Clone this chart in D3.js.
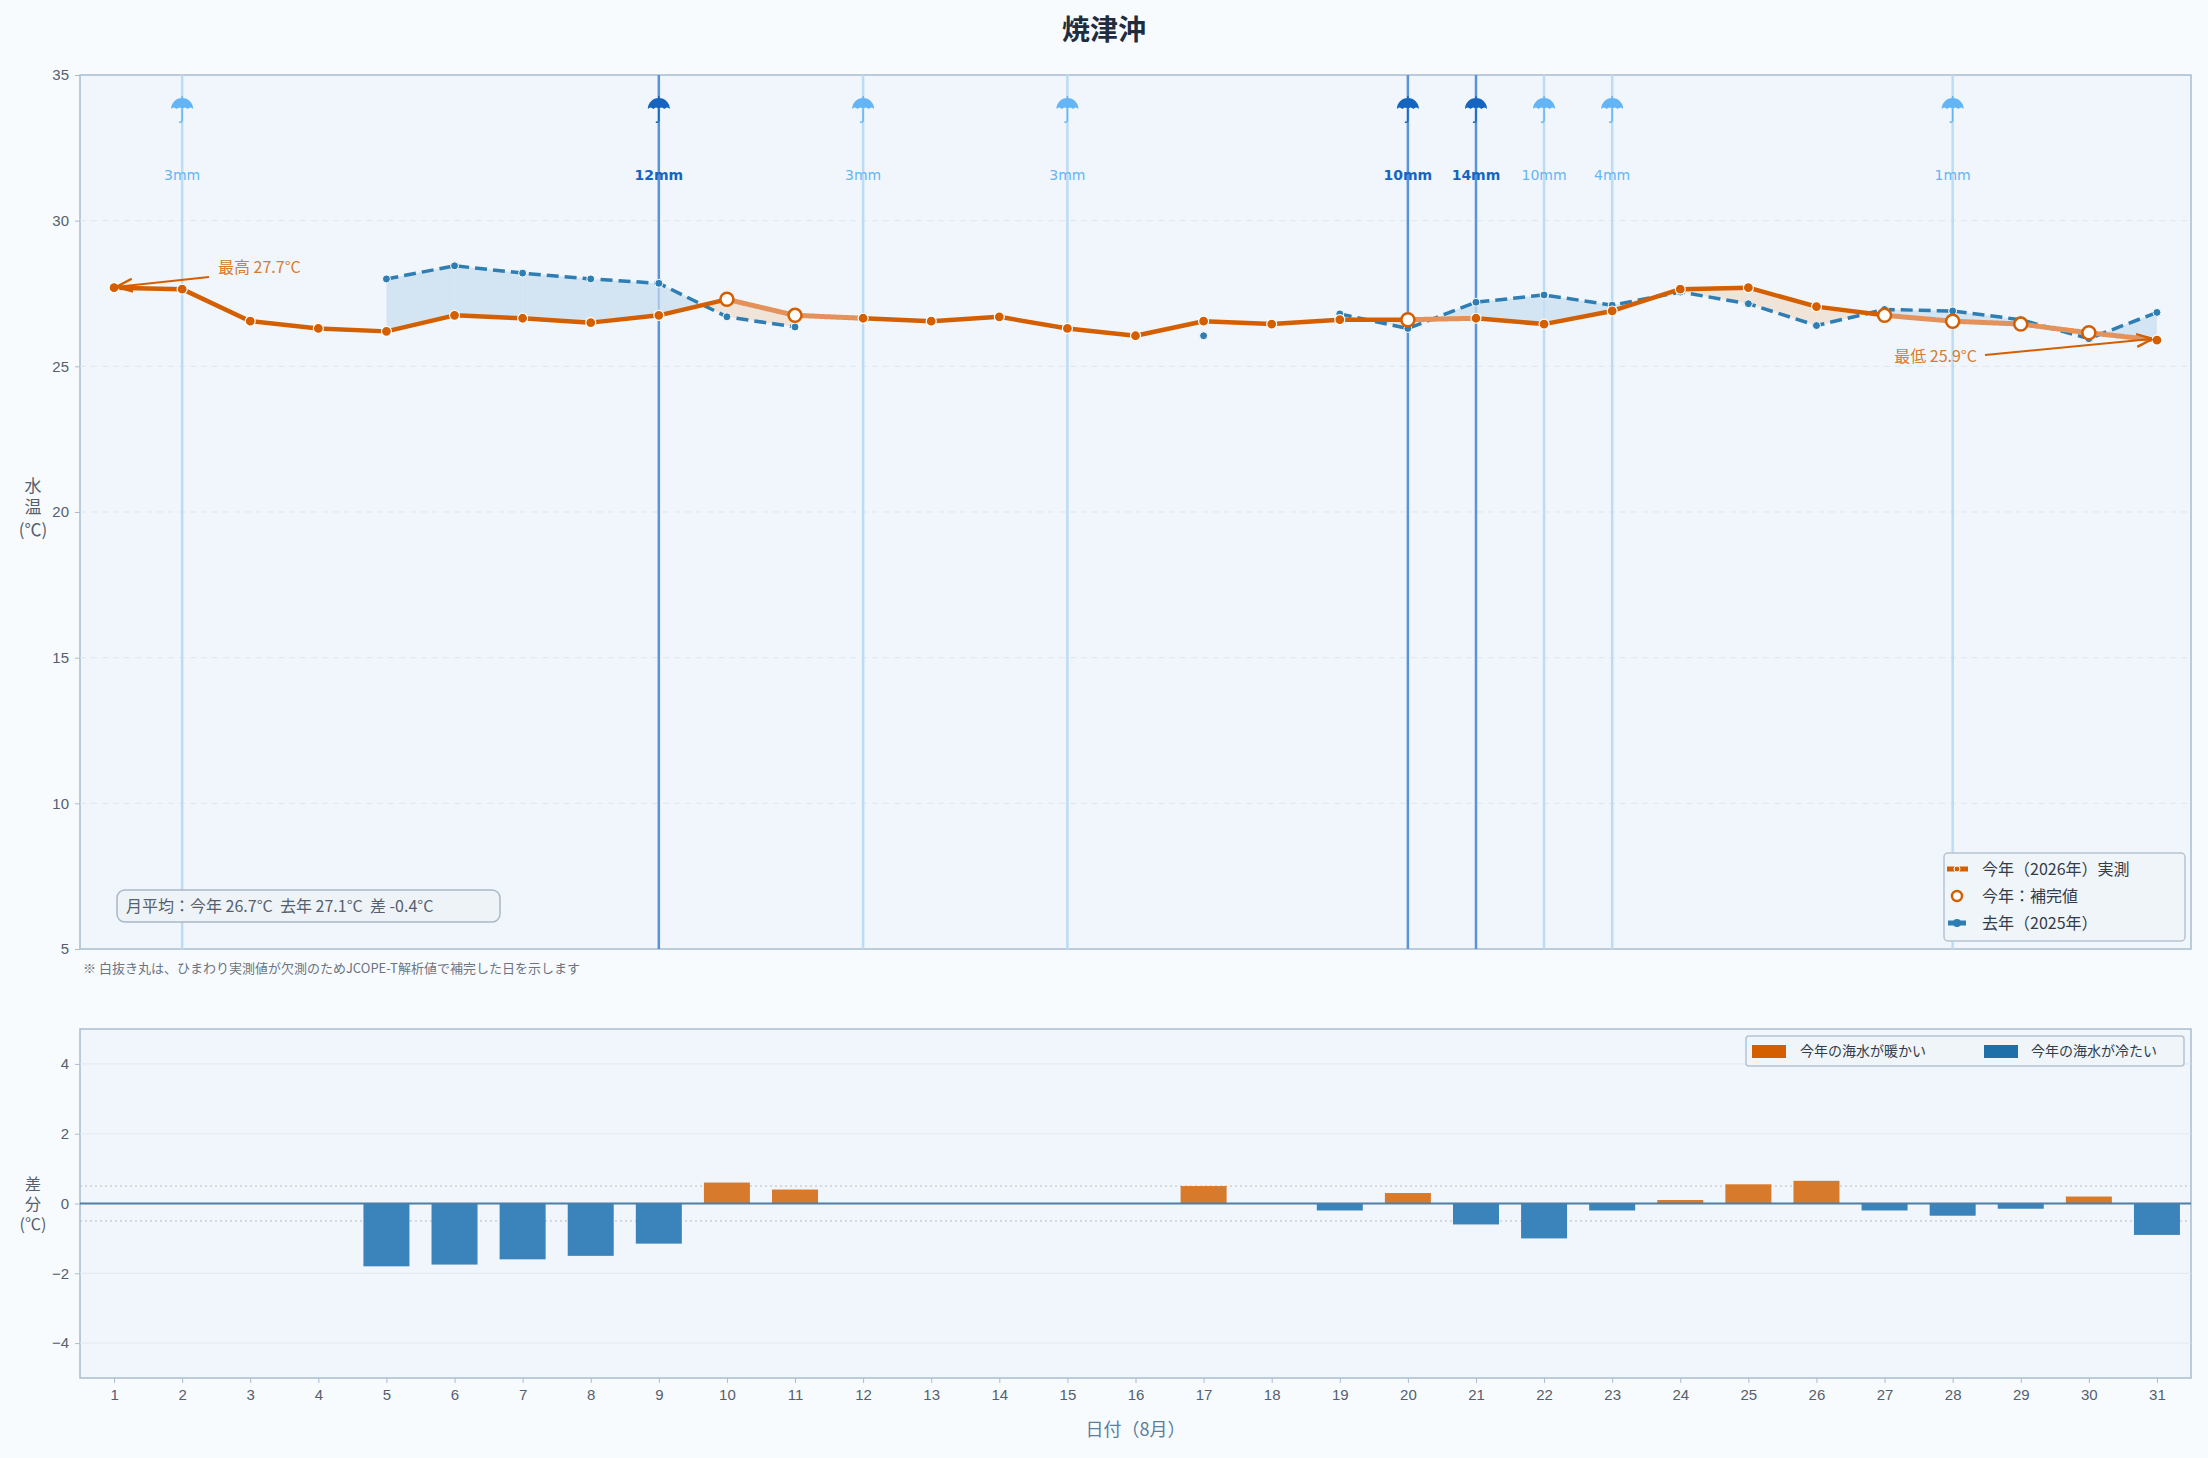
<!DOCTYPE html>
<html><head><meta charset="utf-8">
<script src="https://cdn.jsdelivr.net/npm/d3@7"></script>
<style>
body{margin:0;background:#f8fbfe;font-family:"Noto Sans CJK JP","Noto Sans",sans-serif;}
</style></head><body>
<svg id="chart" width="2208" height="1458"></svg>
<script>
const days = d3.range(1, 32);
const thisYear = [27.7,27.65,26.55,26.3,26.2,26.75,26.65,26.5,26.75,27.3,26.75,26.65,26.55,26.7,26.3,26.05,26.55,26.45,26.6,26.6,26.65,26.45,26.9,27.65,27.7,27.05,26.75,26.55,26.45,26.15,25.9];
const imputedDays = [10,11,20,27,28,29,30];
const lastYear = [null,null,null,null,28.0,28.45,28.2,28.0,27.85,26.7,26.35,null,null,null,null,null,26.05,null,26.8,26.3,27.2,27.45,27.1,27.55,27.15,26.4,26.95,26.9,26.6,25.95,26.85];
const diffs = [null,null,null,null,-1.8,-1.75,-1.6,-1.5,-1.15,0.6,0.4,null,null,null,null,null,0.5,null,-0.2,0.3,-0.6,-1.0,-0.2,0.1,0.55,0.65,-0.2,-0.35,-0.15,0.2,-0.9];
const rainDays = [2,9,12,15,20,21,22,23,28];
const rainMm = [3,12,3,3,10,14,10,4,1];
const rainHeavy = [false,true,false,false,true,true,false,false,false];

const svg = d3.select("#chart");
const L = 80, R = 2191, T1 = 75, B1 = 949, T2 = 1029, B2 = 1378;
const orange = "#d35f00", blue = "#2e7db3", axisC = "#a9bccf", txt = "#555f6d";

svg.append("text").attr("x", 1104).attr("y", 40).attr("text-anchor", "middle")
  .attr("font-size", 28).attr("font-weight", "bold").attr("fill", "#1f2d3d").text("焼津沖");

const x = d3.scaleLinear().domain([0.5, 31.5]).range([L, R]);
const y = d3.scaleLinear().domain([5, 35]).range([B1, T1]);
const y2 = d3.scaleLinear().domain([-5, 5]).range([B2, T2]);

// panels
[[T1, B1], [T2, B2]].forEach(([t, b]) => svg.append("rect").attr("x", L).attr("y", t)
  .attr("width", R - L).attr("height", b - t).attr("fill", "#f0f6fc").attr("stroke", axisC).attr("stroke-width", 1.5));

// grid
[10, 15, 20, 25, 30].forEach(v => svg.append("line").attr("x1", L).attr("x2", R).attr("y1", y(v)).attr("y2", y(v))
  .attr("stroke", "#dde5ee").attr("stroke-dasharray", "6,5"));
[-4, -2, 2, 4].forEach(v => svg.append("line").attr("x1", L).attr("x2", R).attr("y1", y2(v)).attr("y2", y2(v))
  .attr("stroke", "#e3e9f0"));
[-0.5, 0.5].forEach(v => svg.append("line").attr("x1", L).attr("x2", R).attr("y1", y2(v)).attr("y2", y2(v))
  .attr("stroke", "#b5bcc4").attr("stroke-dasharray", "2,3"));

// axes
const ax1 = svg.append("g").attr("transform", `translate(${L},0)`)
  .call(d3.axisLeft(y).tickValues([5,10,15,20,25,30,35]).tickSize(5).tickPadding(6));
const ax2 = svg.append("g").attr("transform", `translate(${L},0)`)
  .call(d3.axisLeft(y2).tickValues([-4,-2,0,2,4]).tickSize(5).tickPadding(6).tickFormat(d => d < 0 ? "−" + Math.abs(d) : d));
const ax3 = svg.append("g").attr("transform", `translate(0,${B2})`)
  .call(d3.axisBottom(x).tickValues(days).tickSize(5).tickPadding(6));
[ax1, ax2, ax3].forEach(a => {
  a.select(".domain").remove();
  a.selectAll("line").attr("stroke", axisC);
  a.selectAll("text").attr("font-size", 15).attr("fill", txt).attr("font-family", "Liberation Sans Narrow, Liberation Sans");
});

// rain lines
rainDays.forEach((d, i) => {
  const h = rainHeavy[i];
  const c = h ? "#1565c0" : "#64b5f6";
  svg.append("line").attr("x1", x(d)).attr("x2", x(d)).attr("y1", T1).attr("y2", B1)
    .attr("stroke", h ? "#5b93d8" : "#bcdcf5").attr("stroke-width", 2.5);
  const u = svg.append("g").attr("transform", `translate(${x(d)},106)`);
  u.append("path").attr("d", "M-11,3 A11,11 0 0 1 11,3 Q8.5,0 5.5,3 Q2.7,0 0,3 Q-2.7,0 -5.5,3 Q-8.5,0 -11,3 Z").attr("fill", c);
  u.append("path").attr("d", "M0,-10 V-8 M0,3 V14 Q0,17 -3,16").attr("fill", "none").attr("stroke", c).attr("stroke-width", 1.5);
  svg.append("text").attr("x", x(d)).attr("y", 180).attr("text-anchor", "middle").attr("font-size", 14)
    .attr("font-weight", h ? "bold" : "normal").attr("fill", c).attr("font-family", "DejaVu Sans").text(rainMm[i] + "mm");
});

// fill areas between lines
const fills = svg.append("g");
for (let i = 0; i < 30; i++) {
  const a0 = thisYear[i], a1 = thisYear[i+1], b0 = lastYear[i], b1 = lastYear[i+1];
  if (b0 == null || b1 == null) continue;
  const d0 = a0 - b0, d1 = a1 - b1;
  const segs = [];
  if (d0 * d1 < 0) {
    const t = d0 / (d0 - d1);
    const xm = days[i] + t, ym = a0 + (a1 - a0) * t;
    segs.push([[days[i], a0, b0], [xm, ym, ym], d0]);
    segs.push([[xm, ym, ym], [days[i+1], a1, b1], d1]);
  } else segs.push([[days[i], a0, b0], [days[i+1], a1, b1], d0 + d1]);
  segs.forEach(([p, q, s]) => {
    const pts = [[x(p[0]), y(p[1])], [x(q[0]), y(q[1])], [x(q[0]), y(q[2])], [x(p[0]), y(p[2])]];
    fills.append("path").attr("d", "M" + pts.join("L") + "Z")
      .attr("fill", s > 0 ? "#f0dccb" : "#c9dff0").attr("opacity", 0.75);
  });
}

// last year line
const lineLast = d3.line().defined(d => d[1] != null).x(d => x(d[0])).y(d => y(d[1]));
const lastPts = days.map((d, i) => [d, lastYear[i]]);
svg.append("path").attr("d", lineLast(lastPts)).attr("fill", "none").attr("stroke", blue)
  .attr("stroke-width", 3.5).attr("stroke-dasharray", "12,6");
svg.selectAll(".dl").data(lastPts.filter(d => d[1] != null)).join("circle")
  .attr("cx", d => x(d[0])).attr("cy", d => y(d[1])).attr("r", 4).attr("fill", blue)
  .attr("stroke", "#fff").attr("stroke-width", 1);

// this year line (segments)
for (let i = 0; i < 30; i++) {
  const imp = imputedDays.includes(days[i]);
  svg.append("line").attr("x1", x(days[i])).attr("y1", y(thisYear[i])).attr("x2", x(days[i+1])).attr("y2", y(thisYear[i+1]))
    .attr("stroke", imp ? "#e2925a" : orange).attr("stroke-width", imp ? 5 : 4.5)
    .attr("stroke-dasharray", imp ? "2,1" : null).attr("stroke-linecap", "round");
}
days.forEach((d, i) => {
  const imp = imputedDays.includes(d);
  svg.append("circle").attr("cx", x(d)).attr("cy", y(thisYear[i])).attr("r", imp ? 6.5 : 5)
    .attr("fill", imp ? "#fff" : orange).attr("stroke", imp ? orange : "#fff").attr("stroke-width", imp ? 2.5 : 1.2);
});

// annotations
const marker = svg.append("defs").append("marker").attr("id", "arr").attr("viewBox", "0 0 10 10")
  .attr("refX", 9).attr("refY", 5).attr("markerWidth", 8).attr("markerHeight", 8).attr("orient", "auto");
marker.append("path").attr("d", "M0,1L10,5L0,9").attr("fill", "none").attr("stroke", orange).attr("stroke-width", 1.5);
svg.append("line").attr("x1", 209).attr("y1", 277).attr("x2", x(1) + 4).attr("y2", y(27.7) - 1)
  .attr("stroke", orange).attr("stroke-width", 2).attr("marker-end", "url(#arr)");
svg.append("text").attr("x", 218).attr("y", 273).attr("font-size", 16).attr("fill", "#d97b2d").text("最高 27.7°C");
svg.append("line").attr("x1", 1985).attr("y1", 355).attr("x2", x(31) - 6).attr("y2", y(25.9) - 1)
  .attr("stroke", orange).attr("stroke-width", 2).attr("marker-end", "url(#arr)");
svg.append("text").attr("x", 1977).attr("y", 362).attr("text-anchor", "end").attr("font-size", 16).attr("fill", "#d97b2d").text("最低 25.9°C");

// monthly average box
svg.append("rect").attr("x", 117).attr("y", 890).attr("width", 383).attr("height", 32).attr("rx", 8)
  .attr("fill", "#eef3f8").attr("stroke", "#a9b8c8").attr("stroke-width", 1.5);
svg.append("text").attr("x", 126).attr("y", 912).attr("font-size", 16).attr("fill", txt)
  .attr("xml:space", "preserve").text("月平均：今年 26.7°C  去年 27.1°C  差 -0.4°C");

svg.append("text").attr("x", 83).attr("y", 973).attr("font-size", 13).attr("fill", "#6b7480")
  .text("※ 白抜き丸は、ひまわり実測値が欠測のためJCOPE-T解析値で補完した日を示します");

// legend top
const lg = svg.append("g").attr("transform", "translate(1944,853)");
lg.append("rect").attr("width", 241).attr("height", 88).attr("rx", 4).attr("fill", "#f0f5fa").attr("stroke", "#b5c3d1").attr("stroke-width", 1.5);
lg.append("line").attr("x1", 3).attr("x2", 24).attr("y1", 16).attr("y2", 16).attr("stroke", orange).attr("stroke-width", 5);
lg.append("circle").attr("cx", 13).attr("cy", 16).attr("r", 3).attr("fill", orange).attr("stroke", "#fff");
lg.append("circle").attr("cx", 13).attr("cy", 43).attr("r", 5).attr("fill", "#fff").attr("stroke", orange).attr("stroke-width", 2.5);
lg.append("line").attr("x1", 4).attr("x2", 22).attr("y1", 70).attr("y2", 70).attr("stroke", blue).attr("stroke-width", 5);
lg.append("circle").attr("cx", 13).attr("cy", 70).attr("r", 4).attr("fill", blue);
["今年（2026年）実測", "今年：補完値", "去年（2025年）"].forEach((t, i) =>
  lg.append("text").attr("x", 38).attr("y", 22 + i * 27).attr("font-size", 16).attr("fill", "#333c48").text(t));

// bars
const bw = 46;
svg.selectAll(".bar").data(days.map((d, i) => [d, diffs[i]]).filter(d => d[1] != null && d[1] !== 0)).join("rect")
  .attr("x", d => x(d[0]) - bw / 2).attr("width", bw)
  .attr("y", d => y2(Math.max(0, d[1]))).attr("height", d => Math.abs(y2(d[1]) - y2(0)))
  .attr("fill", d => d[1] > 0 ? "#d87a2c" : "#3a84bb");
svg.append("line").attr("x1", L).attr("x2", R).attr("y1", y2(0)).attr("y2", y2(0)).attr("stroke", "#4a7fa8").attr("stroke-width", 2);

// legend bottom
const lb = svg.append("g").attr("transform", "translate(1746,1036)");
lb.append("rect").attr("width", 438).attr("height", 30).attr("rx", 3).attr("fill", "#f0f5fa").attr("stroke", "#b5c3d1").attr("stroke-width", 1.5);
lb.append("rect").attr("x", 6).attr("y", 9).attr("width", 34).attr("height", 13).attr("fill", "#d35f00");
lb.append("text").attr("x", 54).attr("y", 20).attr("font-size", 14).attr("fill", "#333c48").text("今年の海水が暖かい");
lb.append("rect").attr("x", 238).attr("y", 9).attr("width", 34).attr("height", 13).attr("fill", "#1f6fa8");
lb.append("text").attr("x", 285).attr("y", 20).attr("font-size", 14).attr("fill", "#333c48").text("今年の海水が冷たい");

// axis titles
[["水", 492], ["温", 513], ["(℃)", 536]].forEach(([t, yy]) =>
  svg.append("text").attr("x", 33).attr("y", yy).attr("text-anchor", "middle").attr("font-size", 17).attr("fill", txt).text(t));
[["差", 1190], ["分", 1210], ["(℃)", 1230]].forEach(([t, yy]) =>
  svg.append("text").attr("x", 33).attr("y", yy).attr("text-anchor", "middle").attr("font-size", 16).attr("fill", txt).text(t));
svg.append("text").attr("x", (L + R) / 2).attr("y", 1436).attr("text-anchor", "middle").attr("font-size", 18)
  .attr("fill", "#5b7f9e").text("日付（8月）");
</script>
</body></html>
